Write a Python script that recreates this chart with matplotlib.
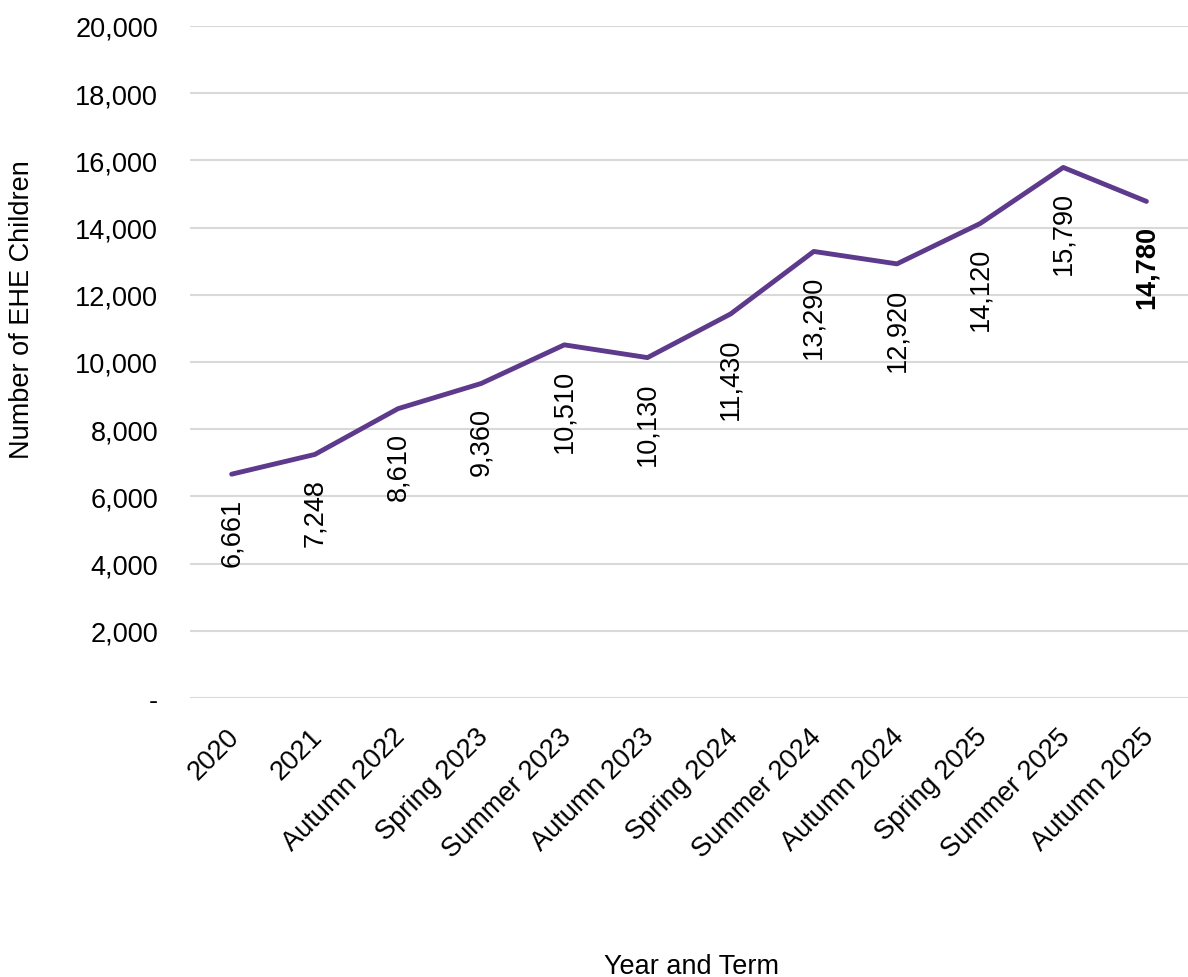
import matplotlib
matplotlib.use("Agg")
import matplotlib.pyplot as plt
from matplotlib.ticker import FuncFormatter
from matplotlib.transforms import ScaledTranslation

plt.rcParams["font.family"] = ["Liberation Sans", "DejaVu Sans"]

terms = ["2020", "2021", "Autumn 2022", "Spring 2023", "Summer 2023", "Autumn 2023",
         "Spring 2024", "Summer 2024", "Autumn 2024", "Spring 2025", "Summer 2025",
         "Autumn 2025"]
children = [6661, 7248, 8610, 9360, 10510, 10130, 11430, 13290, 12920, 14120, 15790, 14780]

LINE = "#5E3A8C"
GRID = "#D9D9D9"
FS = 19.5

fig = plt.figure(figsize=(11.88, 9.78), dpi=100)
ax = fig.add_axes([0.16, 0.2853, 0.84, 0.6871])

x = list(range(len(terms)))
ax.plot(x, children, color=LINE, lw=3.5, solid_capstyle="round", zorder=3)

# data labels sit under each point, rotated; the latest one is bold
for i, v in enumerate(children):
    last = i == len(children) - 1
    ax.annotate(f"{v:,}", (i, v), xytext=(0, -17), textcoords="offset points",
                rotation=90, ha="center", va="top", fontsize=FS,
                fontweight="bold" if last else "normal", color="black")

ax.set_xlim(-0.5, len(terms) - 0.5)
ax.set_ylim(0, 20000)
ax.set_yticks(range(0, 20001, 2000))
ax.yaxis.set_major_formatter(FuncFormatter(lambda v, p: "-" if v == 0 else f"{int(v):,}"))
ax.set_xticks(x)
ax.set_xticklabels(terms, rotation=45, ha="right", va="top", rotation_mode="anchor")
ax.tick_params(axis="both", length=0, labelsize=FS)
ax.tick_params(axis="y", pad=23)
ax.tick_params(axis="x", pad=18)
shift = ScaledTranslation(-6 / 100, 0, fig.dpi_scale_trans)
for lab in ax.get_xticklabels():
    lab.set_transform(lab.get_transform() + shift)
ax.grid(axis="y", color=GRID, lw=1.5)
ax.set_axisbelow(True)
for s in ax.spines.values():
    s.set_visible(False)

fig.text(22 / 1188, 1 - 310 / 978, "Number of EHE Children", rotation=90,
         ha="center", va="center", fontsize=FS)
fig.text(691 / 1188, 4 / 978, "Year and Term", ha="center", va="baseline", fontsize=FS)

fig.savefig("out.png", dpi=100)
